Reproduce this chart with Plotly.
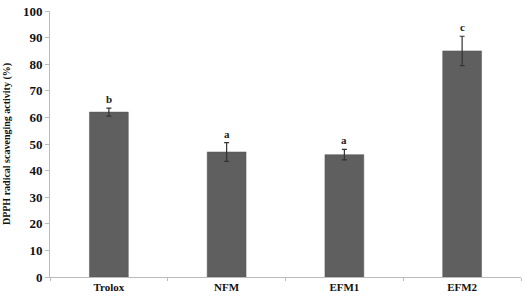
import plotly.graph_objects as go

categories = ["Trolox", "NFM", "EFM1", "EFM2"]
values = [62, 47, 46, 85]
errors = [1.5, 3.5, 2.0, 5.5]
letters = ["b", "a", "a", "c"]
y_ticks = list(range(0, 101, 10))

fig = go.Figure()
fig.add_trace(go.Bar(
    x=categories, y=values,
    marker=dict(color="#5f5f5f", line=dict(color="#555555", width=0.5)),
    error_y=dict(type="data", array=errors, color="#333333", thickness=1.2, width=2.5),
    width=0.33,
))
for c, v, e, l in zip(categories, values, errors, letters):
    fig.add_annotation(x=c, y=v + e, text="<b>" + l + "</b>", showarrow=False, yanchor="bottom", yshift=1,
                       font=dict(family="Liberation Serif", size=11, color="#222"))

fig.update_layout(
    width=523, height=302,
    margin=dict(l=50, r=2, t=11, b=25),
    paper_bgcolor="white", plot_bgcolor="white",
    showlegend=False,
    font=dict(family="Liberation Serif", color="#111"),
    xaxis=dict(showline=True, linecolor="#bbbbbb", linewidth=1, ticks="outside",
               tickson="boundaries", ticklen=3, tickcolor="#bbbbbb",
               tickvals=categories, ticktext=["<b>" + c + "</b>" for c in categories],
               tickfont=dict(size=11, family="Liberation Serif"),
               range=[-0.5, 3.5]),
    yaxis=dict(range=[0, 100], tickvals=y_ticks, ticktext=["<b>%d</b>" % t for t in y_ticks],
               showline=True, linecolor="#bbbbbb", linewidth=1,
               ticks="outside", ticklen=4, tickcolor="#bbbbbb", showgrid=False, zeroline=False,
               tickfont=dict(size=13, family="Liberation Serif"),
               title=dict(text="<b>DPPH radical scavenging activity (%)</b>", standoff=10,
                          font=dict(size=10, family="Liberation Serif"))),
)
fig.write_html("out.html")
